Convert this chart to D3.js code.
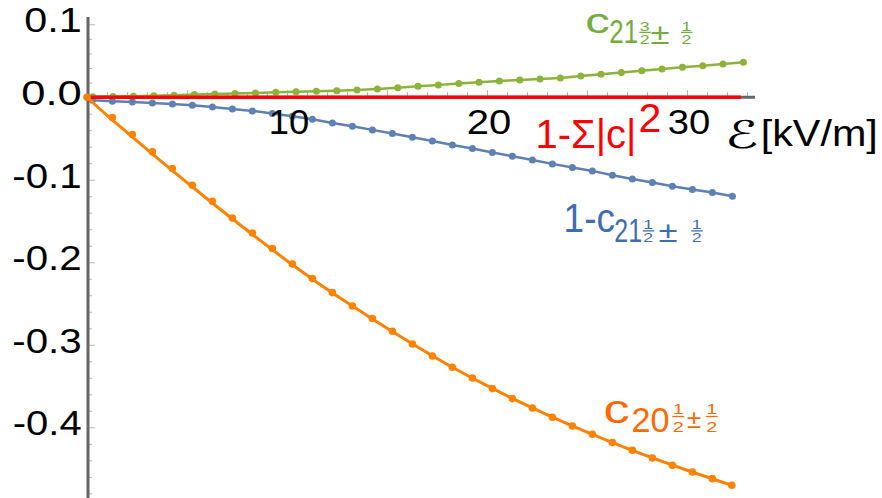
<!DOCTYPE html>
<html><head><meta charset="utf-8">
<script src="https://cdn.jsdelivr.net/npm/d3@7"></script>
<style>body{margin:0;background:#fff}svg{display:block}</style>
</head><body><svg id="c" width="882" height="498"></svg>
<script>
// ---------- data ----------
const yTickValues = [0.1, 0.0, -0.1, -0.2, -0.3, -0.4];
const yTickLabels = ["0.1", "0.0", "-0.1", "-0.2", "-0.3", "-0.4"];
const xTickValues = [10, 20, 30];
const xTickLabels = ["10", "20", "30"];

const orangeX = [0, 1.27, 2.27, 3.27, 4.27, 5.27, 6.27, 7.27, 8.27, 9.27, 10.27, 11.27, 12.27, 13.27, 14.27, 15.27, 16.27,
  17.27, 18.27, 19.27, 20.27, 21.27, 22.27, 23.27, 24.27, 25.27, 26.27, 27.27, 28.27, 29.27, 30.27, 31.27, 32.24];
const orangeY = [0, -0.0246, -0.0452, -0.0663, -0.0864, -0.1067, -0.1261, -0.1463, -0.1645, -0.1834, -0.2021, -0.2198,
  -0.2368, -0.2530, -0.2682, -0.2836, -0.2990, -0.3136, -0.3273, -0.3402, -0.3531, -0.3652, -0.3766, -0.3879, -0.3984,
  -0.4085, -0.4185, -0.4279, -0.4372, -0.4461, -0.4542, -0.4622, -0.4703];
const orangeCurveX = [0, 1, 2, 4, 6, 8, 10, 12, 14, 16, 18, 20, 22, 24, 26, 28, 30, 32.24];
const orangeCurveY = [0, -0.022, -0.0426, -0.0835, -0.1230, -0.1612, -0.1982, -0.2328, -0.2644, -0.2948, -0.3236,
  -0.3496, -0.3735, -0.3956, -0.4158, -0.4347, -0.4520, -0.4703];

const blueX = [0.27, 1.27, 2.27, 3.27, 4.27, 5.27, 6.27, 7.27, 8.27, 9.27, 10.27, 11.27, 12.27, 13.27, 14.27, 15.27, 16.27,
  17.27, 18.27, 19.27, 20.27, 21.27, 22.27, 23.27, 24.27, 25.27, 26.27, 27.27, 28.27, 29.27, 30.27, 31.27, 32.27];
const blueY = [-0.0036, -0.0048, -0.0057, -0.0069, -0.0081, -0.0097, -0.0118, -0.0142, -0.0166, -0.0198, -0.0230,
  -0.0267, -0.0312, -0.0352, -0.0396, -0.0440, -0.0485, -0.0530, -0.0578, -0.0622, -0.0670, -0.0715, -0.0760, -0.0808,
  -0.0852, -0.0893, -0.0945, -0.0990, -0.1034, -0.1079, -0.1119, -0.1155, -0.1200];

const greenX = [0.29, 1.30, 2.32, 3.34, 4.35, 5.37, 6.39, 7.40, 8.42, 9.44, 10.45, 11.47, 12.49, 13.50, 14.52, 15.54,
  16.55, 17.57, 18.59, 19.60, 20.62, 21.64, 22.65, 23.67, 24.69, 25.70, 26.72, 27.74, 28.75, 29.77, 30.79, 31.80, 32.82];
const greenY = [0.0007, 0.0010, 0.0014, 0.0021, 0.0028, 0.0036, 0.0044, 0.0051, 0.0059, 0.0067, 0.0074, 0.0081, 0.0089,
  0.0100, 0.0113, 0.0129, 0.0149, 0.0168, 0.0187, 0.0205, 0.0221, 0.0237, 0.0250, 0.0265, 0.0292, 0.0316, 0.0340,
  0.0363, 0.0387, 0.0410, 0.0433, 0.0457, 0.0480];

const redX = [0, 32.7];
const redY = [0, 0];

// ---------- setup ----------
const svg = d3.select("#c");
const x = d3.scaleLinear().domain([0, 30]).range([87, 687]);
const y = d3.scaleLinear().domain([0.1, 0, -0.4]).range([24.3, 97.2, 427.3]);
const FONT = "'Liberation Sans', Arial, sans-serif";

const C_GREEN = "#8db33a", C_BLUE = "#5e81b5", C_ORANGE = "#ff8200", C_RED = "#ff0000";
const L_GREEN = "#72ad3e", L_BLUE = "#3f6db3", L_ORANGE = "#ff6a00";

// text fitted horizontally to an ink span [l, r]; baseline at by
function fit(str, l, r, by, size, color, family, italic) {
  const t = svg.append("text").attr("font-family", family || FONT).attr("font-size", size)
    .attr("fill", color || "#000").attr("x", 0).attr("y", 0).text(str);
  if (italic) t.attr("font-style", "italic");
  const bb = t.node().getBBox();
  const pad = 0.035 * size;
  const s = (r - l + 2 * pad) / bb.width;
  t.attr("transform", `translate(${l - pad - bb.x * s},${by}) scale(${s},1)`);
  return t;
}
function fitC(str, cx, w, by, size, color) { return fit(str, cx - w / 2, cx + w / 2, by, size, color); }

// stacked fraction: numerator, bar, denominator
function fraction(num, den, cx, w, nb, db, barY, size, color) {
  fitC(num, cx, w, nb, size, color);
  svg.append("line").attr("x1", cx - w / 2 - 1).attr("x2", cx + w / 2 + 1)
    .attr("y1", barY).attr("y2", barY).attr("stroke", color).attr("stroke-width", 1.3);
  fitC(den, cx, w, db, size, color);
}

// ---------- axes ----------
const axG = svg.append("g");
const yMinor = d3.range(-24, 6).map(i => i * 0.02).filter(v => Math.abs(Math.round(v * 10) - v * 10) > 1e-6);
axG.append("g").attr("transform", `translate(${x(0) + 1},0)`)
  .call(d3.axisRight(y).tickValues(yMinor).tickSize(4).tickFormat(""))
  .call(g => g.select(".domain").remove())
  .selectAll("line").attr("stroke", "#b4b4b4");
axG.append("g").attr("transform", `translate(${x(0) + 1},0)`)
  .call(d3.axisRight(y).tickValues(yTickValues).tickSize(7).tickFormat(""))
  .call(g => g.select(".domain").remove())
  .selectAll("line").attr("stroke", "#b4b4b4");

const xMinor = d3.range(1, 34).filter(v => v % 5 !== 0);
const xMajor = [5, 10, 15, 20, 25, 30];
axG.append("g").attr("transform", `translate(0,${y(0)})`)
  .call(d3.axisTop(x).tickValues(xMinor).tickSize(5).tickFormat(""))
  .call(g => g.select(".domain").remove())
  .selectAll("line").attr("stroke", "#b4b4b4");
axG.append("g").attr("transform", `translate(0,${y(0)})`)
  .call(d3.axisTop(x).tickValues(xMajor).tickSize(7).tickFormat(""))
  .call(g => g.select(".domain").remove())
  .selectAll("line").attr("stroke", "#b4b4b4");

axG.append("line").attr("x1", x(0) + 1).attr("x2", x(0) + 1).attr("y1", y(0.11)).attr("y2", y(-0.49))
  .attr("stroke", "#666").attr("stroke-width", 3);
axG.append("line").attr("x1", x(0)).attr("x2", x(33.4)).attr("y1", y(0)).attr("y2", y(0))
  .attr("stroke", "#666").attr("stroke-width", 3);

// y tick labels: ink widths, right edge ~80.5
const yLabW = { "0.1": 55, "0.0": 58, "-0.1": 67, "-0.2": 67, "-0.3": 67, "-0.4": 66.5 };
yTickValues.forEach((v, i) => {
  const s = yTickLabels[i];
  fit(s, 80.5 - yLabW[s], 80.5, y(v) + 8, 35, "#000");
});

// ---------- series ----------
const line = d3.line().x(d => x(d[0])).y(d => y(d[1]));
function series(xs, ys, color, lw, r, drawLine) {
  const pts = xs.map((v, i) => [v, ys[i]]);
  const g = svg.append("g");
  if (drawLine) g.append("path").attr("d", line(pts)).attr("fill", "none").attr("stroke", color).attr("stroke-width", lw);
  if (r) g.selectAll("circle").data(pts).join("circle")
    .attr("cx", d => x(d[0])).attr("cy", d => y(d[1])).attr("r", r).attr("fill", color);
}
series(greenX, greenY, C_GREEN, 2.5, 3.5, true);
series(blueX, blueY, C_BLUE, 2.5, 3.5, true);
svg.append("path")
  .attr("d", line(redX.map((v, i) => [v, redY[i]])))
  .attr("stroke", C_RED).attr("stroke-width", 3.5).attr("fill", "none");
svg.append("path")
  .attr("d", d3.line().x(d => x(d[0])).y(d => y(d[1])).curve(d3.curveMonotoneX)(orangeCurveX.map((v, i) => [v, orangeCurveY[i]])))
  .attr("stroke", C_ORANGE).attr("stroke-width", 3).attr("fill", "none");
series(orangeX, orangeY, C_ORANGE, 0, 3.8, false);

// x tick labels
const xLabW = { "10": 38, "20": 42, "30": 40 };
xTickValues.forEach((v, i) => {
  const s = xTickLabels[i];
  fitC(s, x(v) + 2, xLabW[s], 133.5, 36, "#000");
});

// axis title
fit("\u2130", 726, 757, 148, 38, "#000", "'DejaVu Serif','DejaVu Sans',serif", true);
fit("[kV/m]", 762, 876.5, 146, 37, "#000");

// ---------- curve labels ----------
function label(s) {
  fit(s.main, s.m[0], s.m[1], s.m[2], s.m[3], s.color);
  fit(s.sub, s.s[0], s.s[1], s.s[2], s.s[3], s.color);
  fraction(s.n1, "2", s.f1, s.fw, s.fn, s.fd, s.fb, s.fs, s.color);
  fraction("1", "2", s.f2, s.fw, s.fn, s.fd, s.fb, s.fs, s.color);
  fitC("\u00b1", s.pm[0], s.pm[1], s.pm[2], s.pm[3], s.color);
}
label({ main: "c", m: [586.5, 608.5, 33.3, 36], sub: "21", s: [610.5, 637, 43.3, 32.5],
  n1: "3", f1: 645, f2: 686.7, fw: 9.5, fn: 30.6, fb: 32.4, fd: 43.5, fs: 12,
  pm: [660, 17, 43.5, 30], color: L_GREEN });
label({ main: "1-c", m: [565, 613.5, 231.7, 40], sub: "21", s: [615.5, 641, 241.5, 32.5],
  n1: "1", f1: 648.5, f2: 697, fw: 9.5, fn: 229.1, fb: 230.9, fd: 242, fs: 12,
  pm: [668, 17, 242, 30], color: L_BLUE });
label({ main: "c", m: [605, 628.3, 423.3, 41], sub: "20", s: [632.7, 668.3, 431.7, 35],
  n1: "1", f1: 678.3, f2: 711.7, fw: 10, fn: 414, fb: 416.5, fd: 431.7, fs: 15,
  pm: [694, 12.5, 428, 25], color: L_ORANGE });

// red label 1-Σ|c|²
fit("1-\u03a3|c|", 537, 635, 148.3, 40, C_RED);
fit("2", 640, 660, 131.7, 41, C_RED);
</script></body></html>
